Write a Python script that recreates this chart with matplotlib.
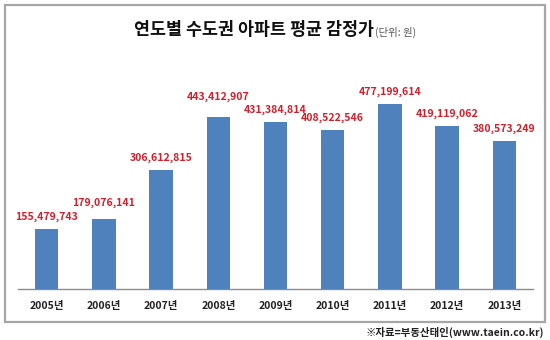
import matplotlib
matplotlib.use('Agg')
import matplotlib.pyplot as plt
from matplotlib.patches import Rectangle

plt.rcParams['font.family'] = ['Noto Sans CJK KR', 'DejaVu Sans']

# ── Data ──────────────────────────────────────────────────────────────────
years = ['2005년', '2006년', '2007년', '2008년', '2009년',
         '2010년', '2011년', '2012년', '2013년']
prices = [155479743, 179076141, 306612815, 443412907, 431384814,
          408522546, 477199614, 419119062, 380573249]

title = '연도별 수도권 아파트 평균 감정가'
unit = '(단위: 원)'
source = '※자료=부동산태인(www.taein.co.kr)'

BAR = '#4f81bd'
RED = '#d0202c'

# extra lift (points) for labels that were nudged up in the original
lift = {1: 3, 3: 5.5}

# ── Figure ───────────────────────────────────────────────────────────────
W, H = 550, 340
fig = plt.figure(figsize=(W / 100, H / 100), dpi=100)
fig.patch.set_facecolor('white')

# outer frame
fig.patches.append(Rectangle((5 / W, 1 - 322 / H), 540 / W, 317.5 / H,
                             transform=fig.transFigure, fill=False,
                             edgecolor='#a6a6a6', linewidth=1.6))

ax = fig.add_axes([18 / W, 1 - 289 / H, 515 / W, 229 / H])
x = range(len(years))
ax.bar(x, prices, width=0.41, color=BAR, zorder=3)

for xi, v in zip(x, prices):
    ax.annotate(f'{v:,}', (xi, v), textcoords='offset points',
                xytext=(0, 5 + lift.get(xi, 0)),
                ha='center', va='bottom', fontsize=7.6, fontweight='bold',
                color=RED)

ax.set_xlim(-0.5, len(years) - 0.5)
ax.set_ylim(0, 590e6)
ax.set_xticks(list(x))
ax.set_xticklabels(years, fontsize=7.5, fontweight='bold', color='#222222')
ax.tick_params(axis='x', length=0, pad=9)
ax.set_yticks([])
for side in ('top', 'right', 'left'):
    ax.spines[side].set_visible(False)
ax.spines['bottom'].set_color('#8c8c8c')
ax.spines['bottom'].set_linewidth(1.0)

# title + unit, centred as one group
t = fig.text(0, 1 - 30 / H, title, ha='left', va='center',
             fontsize=12.5, fontweight='bold', color='#111111')
u = fig.text(0, 0, unit, ha='left', va='baseline', fontsize=7.5,
             color='#555555')
fig.canvas.draw()
r = fig.canvas.get_renderer()
tw = t.get_window_extent(r).width
uw = u.get_window_extent(r).width
x0 = 275 - (tw + uw + 1) / 2
t.set_x(x0 / W)
fig.canvas.draw()
tb = t.get_window_extent(r)
u.set_position(((x0 + tw + 1) / W, (tb.y0 + 3) / H))

fig.text(544 / W, 1 - 332 / H, source, ha='right', va='center',
         fontsize=7.5, fontweight='bold', color='#222222')

fig.savefig('out.png', dpi=100)
